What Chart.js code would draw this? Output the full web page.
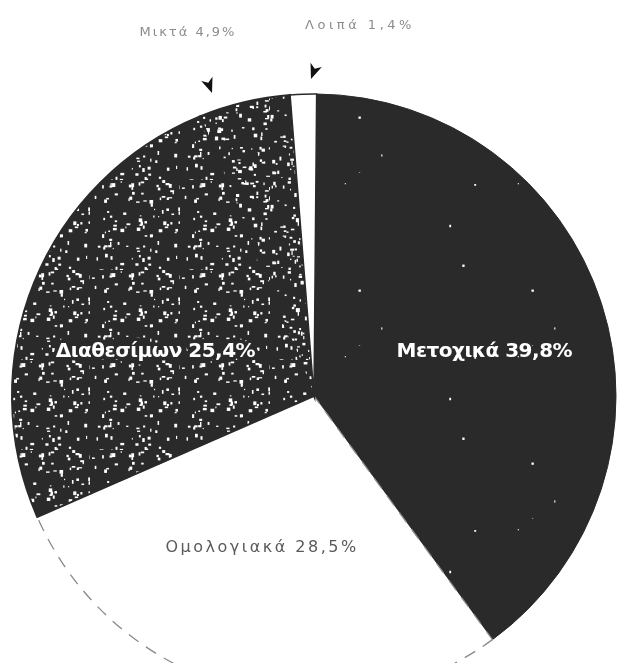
<!DOCTYPE html>
<html lang="el">
<head>
<meta charset="utf-8">
<title>Κατανομή ενεργητικού</title>
<script src="https://cdn.jsdelivr.net/npm/chart.js@4.4.1/dist/chart.umd.min.js"></script>
<style>
  html, body { margin: 0; padding: 0; background: #ffffff; overflow: hidden; }
  #wrap { position: absolute; left: 0; top: 0; width: 619px; height: 720px; }
</style>
</head>
<body>
<div id="wrap"><canvas id="pie" width="619" height="720"></canvas></div>
<script>
// Fund categories and their shares (%)
const categories = ['Μετοχικά', 'Ομολογιακά', 'Διαθεσίμων', 'Μικτά', 'Λοιπά'];
const shares = [39.8, 28.5, 25.4, 4.9, 1.4];
const shareLabels = ['39,8%', '28,5%', '25,4%', '4,9%', '1,4%'];

const INK = '#2a2a2a';

// Printed-grain fill: dark tile with white specks at fixed pseudo-random spots
function grain(size, count, maxSize, seed) {
  const c = document.createElement('canvas');
  c.width = size; c.height = size;
  const g = c.getContext('2d');
  g.fillStyle = INK;
  g.fillRect(0, 0, size, size);
  let s = seed;
  const next = () => { s = (s * 1103515245 + 12345) % 2147483648; return s / 2147483648; };
  g.fillStyle = '#ffffff';
  for (let i = 0; i < count; i++) {
    const x = next() * size, y = next() * size;
    const w = 1 + next() * maxSize, h = 1 + next() * maxSize;
    g.fillRect(x, y, w, h);
  }
  return g.createPattern(c, 'repeat');
}

const fills = [
  grain(173, 7, 1.5, 7),    // Μετοχικά: almost solid
  '#ffffff',                // Ομολογιακά
  grain(90, 110, 3, 19),    // Διαθεσίμων: heavy grain
  grain(90, 150, 3, 31),    // Μικτά
  '#ffffff'                 // Λοιπά
];

// Text drawn inside / around the slices
const labelPlugin = {
  id: 'sliceLabels',
  afterDatasetsDraw(chart) {
    const ctx = chart.ctx;
    const arc = chart.getDatasetMeta(0).data[0];
    const cx = arc.x, cy = arc.y, r = arc.outerRadius;
    ctx.save();
    ctx.textAlign = 'center';
    ctx.textBaseline = 'middle';

    // inside labels, positioned relative to the pie centre
    const inside = [
      { i: 0, dx: 0.564, dy: -0.145, font: 'bold 20px "DejaVu Sans", sans-serif', color: '#ffffff', spacing: '-0.5px', halo: false },
      { i: 1, dx: -0.172, dy: 0.502, font: '16px "DejaVu Sans", sans-serif', color: '#5a5a5a', spacing: '2.5px', halo: false },
      { i: 2, dx: -0.525, dy: -0.145, font: 'bold 20px "DejaVu Sans", sans-serif', color: '#ffffff', spacing: '-0.5px', halo: true }
    ];
    inside.forEach(l => {
      const text = categories[l.i] + ' ' + shareLabels[l.i];
      const x = cx + l.dx * r, y = cy + l.dy * r;
      ctx.font = l.font;
      ctx.letterSpacing = l.spacing;
      if (l.halo) {
        ctx.strokeStyle = INK;
        ctx.lineWidth = 7;
        ctx.lineJoin = 'round';
        ctx.strokeText(text, x, y);
      }
      ctx.fillStyle = l.color;
      ctx.fillText(text, x, y);
    });

    // outside labels with small pointer wedges for the thin slices
    const outside = [
      { i: 3, tx: 188, ty: 33, sp: '2px', ax: 212, ay: 93, tilt: -0.35 },
      { i: 4, tx: 360, ty: 26, sp: '3.5px', ax: 311, ay: 79, tilt: 0.35 }
    ];
    ctx.font = '13px "DejaVu Sans", sans-serif';
    outside.forEach(l => {
      ctx.letterSpacing = l.sp;
      ctx.fillStyle = '#8c8c8c';
      ctx.fillText(categories[l.i] + ' ' + shareLabels[l.i], l.tx, l.ty);
      ctx.save();
      ctx.translate(l.ax, l.ay);
      ctx.rotate(l.tilt);
      ctx.fillStyle = '#111111';
      ctx.beginPath();
      ctx.moveTo(0, 0);
      ctx.lineTo(-6, -15);
      ctx.lineTo(0, -11);
      ctx.lineTo(6, -15);
      ctx.closePath();
      ctx.fill();
      ctx.restore();
    });
    ctx.restore();
  }
};

new Chart(document.getElementById('pie'), {
  type: 'pie',
  data: {
    labels: categories,
    datasets: [{
      data: shares,
      backgroundColor: fills,
      borderColor: [INK, '#8a8a8a', INK, INK, INK],
      borderWidth: [1, 1.3, 2, 2, 1.5],
      // only the white bond slice has the broken outline
      borderDash: (ctx) => ctx.dataIndex === 1 ? [12, 9] : []
    }]
  },
  options: {
    responsive: false,
    devicePixelRatio: 1,
    animation: false,
    rotation: 0.5,
    layout: { padding: { top: 93, bottom: 21, left: 11, right: 2 } },
    elements: { arc: { borderJoinStyle: 'miter' } },
    plugins: {
      legend: { display: false },
      tooltip: { enabled: false },
      title: { display: false }
    }
  },
  plugins: [labelPlugin]
});
</script>
</body>
</html>
